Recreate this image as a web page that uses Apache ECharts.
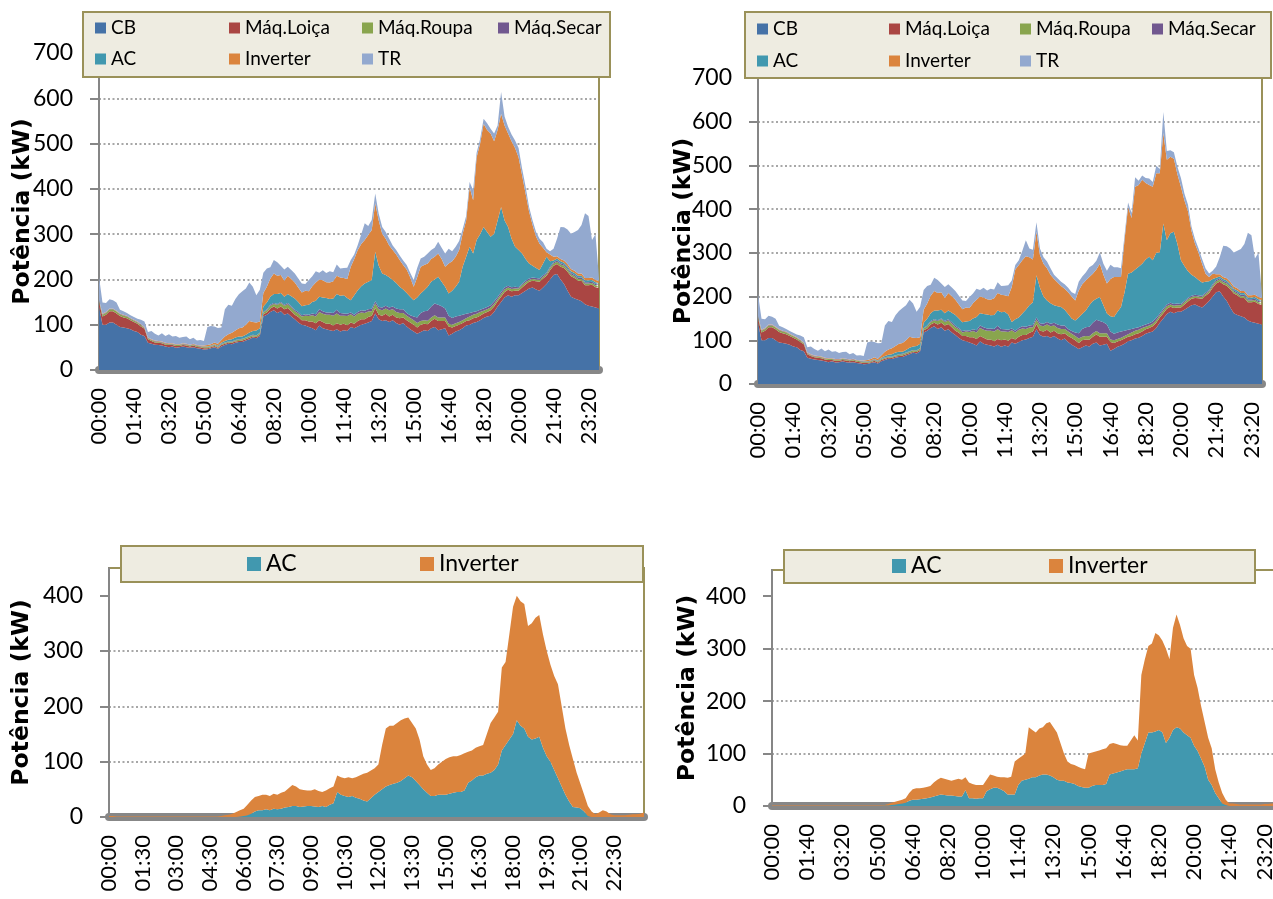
<!DOCTYPE html>
<html>
<head>
<meta charset="utf-8">
<script src="https://cdn.jsdelivr.net/npm/echarts@6/dist/echarts.min.js"></script>
<style>
  html, body { margin: 0; padding: 0; background: #ffffff; }
  #chart { width: 1273px; height: 899px; }
</style>
</head>
<body>
<div id="chart"></div>
<script>
// 10-minute time slots over one day (category labels)
const times = [];
for (let m = 0; m < 1440; m += 10) {
  times.push(String(Math.floor(m / 60)).padStart(2, '0') + ':' + String(m % 60).padStart(2, '0'));
}

// Base loads (kW), shared by both full-stack panels; one row = 1 hour (6 x 10 min)
const cb = [
  140,100,100,105,105,100, 95,94,92,90,86,84, 78,75,60,58,56,55, 54,52,50,52,49,50,
  52,50,49,50,48,47, 45,46,48,50,47,52, 55,58,57,60,62,62, 65,68,72,70,75,118,
  122,128,132,126,130,122, 125,118,112,105,100,98, 95,92,88,98,92,90, 88,86,90,85,88,86,
  95,92,96,100,102,105, 108,125,112,108,110,106, 110,104,100,104,96,90, 85,80,84,88,86,92,
  95,88,90,92,76,80, 85,88,92,98,100,104, 106,110,115,118,120,128, 140,150,160,165,162,165,
  165,170,175,180,182,178, 175,182,190,200,210,212, 200,190,175,162,158,155, 152,145,142,140,138,136
];
const maqLoica = [
  10,18,22,25,25,25, 24,22,22,20,20,18, 18,16,8,6,5,5, 5,4,5,3,4,3,
  3,4,3,4,3,3, 3,2,2,3,2,3, 3,2,3,3,2,3, 3,3,2,3,3,5,
  5,8,8,10,10,12, 12,12,10,12,10,12, 12,15,15,12,14,12, 14,12,13,15,14,13,
  10,10,12,12,10,12, 12,12,10,12,14,12, 12,12,14,12,14,15, 15,14,16,14,15,16,
  18,20,18,16,20,14, 12,12,12,10,10,10, 10,10,10,10,12,12, 12,12,12,12,12,10,
  10,12,14,15,15,18, 20,20,18,20,20,22, 28,35,42,45,45,42, 45,42,45,48,45,45
];
const maqRoupa = [
  3,4,4,4,4,4, 4,4,4,3,3,3, 3,2,2,2,2,2, 2,2,2,2,2,2,
  2,2,2,2,2,2, 2,2,2,2,2,2, 2,2,2,2,3,3, 3,3,3,3,3,4,
  5,6,6,8,8,8, 8,8,8,8,8,10, 12,14,15,18,18,20, 20,22,22,20,18,20,
  18,16,16,15,14,12, 10,10,12,12,12,14, 12,12,12,10,10,10, 10,10,8,8,8,8,
  8,8,8,8,6,6, 6,6,6,6,8,8, 8,8,6,6,6,6, 5,6,6,5,5,5,
  5,5,5,4,4,4, 4,4,4,5,5,5, 5,5,5,4,4,4, 4,4,4,4,4,4
];
const maqSecar = [
  1,1,1,1,1,1, 1,1,1,1,1,1, 1,1,1,1,1,1, 1,1,1,1,1,1,
  1,1,1,1,1,1, 1,1,1,1,1,1, 1,1,1,1,1,1, 1,1,1,1,1,1,
  2,2,2,2,2,2, 3,3,3,3,3,3, 3,4,5,6,6,5, 5,6,8,6,5,5,
  4,4,4,5,5,5, 5,5,5,6,6,6, 6,8,8,8,6,6, 8,12,18,20,22,24,
  26,28,25,20,18,15, 15,14,12,10,8,6, 6,5,5,5,5,5, 4,4,4,4,4,4,
  3,3,3,3,3,3, 3,3,3,3,3,3, 3,3,3,3,3,3, 3,3,3,3,3,3
];
const tr = [
  51,25,20,20,18,18, 8,8,6,6,6,6, 10,12,12,18,15,12, 18,15,20,15,18,14,
  14,16,12,13,10,12, 10,40,40,35,35,28, 60,65,60,70,75,80, 80,85,78,60,70,45,
  40,25,30,30,20,25, 20,20,20,20,20,15, 25,22,25,15,22,20, 25,20,25,20,22,25,
  15,10,11,22,37,20, 22,22,15,15,15,15, 10,10,10,10,10,10, 15,20,18,18,22,20,
  20,26,25,29,33,22, 22,20,10,10,11,22, 10,10,11,15,11,17, 10,48,20,15,15,17,
  20,15,15,10,10,10, 11,12,8,7,18,39, 71,73,76,78,86,96, 107,143,137,83,101,5
];

// AC and Inverter loads, full-stack panel (left)
const acA = [
  0,0,0,0,0,0, 0,0,0,0,0,0, 0,0,0,0,0,0, 0,0,0,0,0,0,
  0,0,0,0,0,0, 1,1,1,1,2,2, 3,4,5,6,6,5, 6,8,8,10,10,12,
  15,18,20,22,20,18, 20,22,25,22,20,20, 22,25,30,28,30,32, 30,32,35,38,40,35,
  27,43,48,53,60,61, 64,109,91,75,68,67, 59,56,50,44,44,41, 36,44,43,46,53,55,
  53,62,54,48,49,60, 66,75,106,126,146,129, 157,167,180,166,151,150, 169,188,148,130,107,88,
  82,67,48,33,26,22, 19,26,35,12,4,4, 4,4,4,4,4,4, 4,4,4,4,4,4
];
const invA = [
  1,1,1,1,1,1, 1,1,1,1,1,1, 1,1,1,1,1,1, 1,1,1,1,1,1,
  1,1,1,1,1,1, 2,3,3,4,4,6, 10,12,14,15,18,20, 22,25,20,18,15,30,
  35,40,45,40,40,35, 40,38,35,32,30,32, 30,35,40,38,38,35, 36,38,40,40,38,42,
  74,80,89,93,96,103, 110,107,100,88,80,70, 66,63,59,54,52,43, 30,45,59,56,51,50,
  50,51,50,44,66,65, 66,70,73,80,132,118, 183,200,228,225,228,204, 200,206,210,206,215,218,
  205,173,145,115,90,70, 58,35,10,15,8,5, 5,5,5,5,5,5, 5,5,5,5,5,5
];

// AC and Inverter loads, full-stack panel (right)
const acB = [
  0,0,0,0,0,0, 0,0,0,0,0,0, 0,0,0,0,0,0, 0,0,0,0,0,0,
  0,0,0,0,0,0, 1,1,1,1,2,2, 3,4,5,6,6,5, 6,8,8,10,10,12,
  15,18,20,22,20,18, 20,22,25,22,20,20, 22,25,30,28,30,32, 30,32,35,38,40,35,
  15,26,24,29,39,46, 52,97,81,62,49,47, 40,42,42,36,34,29, 27,36,34,38,49,50,
  48,55,39,25,35,38, 47,56,88,128,129,134, 138,142,149,152,140,149, 140,195,147,159,165,136,
  100,80,61,48,41,35, 30,25,20,12,5,4, 4,4,4,4,4,4, 4,4,4,4,4,4
];
const invB = [
  1,1,1,1,1,1, 1,1,1,1,1,1, 1,1,1,1,1,1, 1,1,1,1,1,1,
  1,1,1,1,1,1, 2,3,3,4,4,6, 10,12,14,15,18,20, 22,25,20,18,15,30,
  35,40,45,40,40,35, 40,38,35,32,30,32, 30,35,40,38,38,35, 36,38,40,40,38,42,
  80,114,120,122,122,110, 98,99,75,75,74,65, 60,54,48,48,50,50, 46,62,68,69,65,62,
  67,76,70,69,85,92, 80,69,120,153,125,189, 187,192,175,164,168,182, 181,207,184,175,167,160,
  168,150,137,100,76,62, 43,18,10,12,8,5, 5,5,5,5,5,5, 5,5,5,5,5,5
];

// AC and Inverter only (lower left panel)
const acDayA = [
  0,0,0,0,0,0, 0,0,0,0,0,0, 0,0,0,0,0,0, 0,0,0,0,0,0,
  0,0,0,0,0,0, 0,0,0,0,0,1, 2,3,6,10,12,12, 14,12,15,14,15,17,
  18,20,20,18,19,20, 20,19,18,20,18,22, 25,45,40,38,36,38, 35,33,30,28,34,40,
  45,50,55,58,60,62, 65,70,75,72,65,58, 50,44,38,38,40,40, 40,42,44,45,45,48,
  62,66,72,75,75,78, 80,85,95,120,130,140, 150,175,165,160,145,140, 142,145,125,110,100,85,
  70,55,40,28,18,17, 16,10,2,0,0,0, 0,0,0,0,0,0, 0,0,0,0,0,0
];
const invDayA = [
  2,2,1,1,1,1, 1,1,1,1,1,1, 1,1,1,1,1,1, 1,1,1,1,1,1,
  1,1,1,1,1,1, 2,3,4,6,9,11, 13,19,24,26,26,28, 26,26,27,26,29,29,
  34,38,35,32,30,28, 28,31,29,25,30,30, 30,30,32,32,36,32, 37,42,48,52,50,48,
  50,80,105,107,105,108, 110,108,105,98,95,82, 60,51,47,50,55,60, 65,66,66,65,67,67,
  56,54,53,53,55,72, 90,95,95,150,150,190, 230,225,225,225,200,210, 218,220,205,190,175,170,
  170,145,120,102,87,63, 44,30,18,10,5,8, 12,10,5,3,3,3, 3,4,5,5,6,8
];

// AC and Inverter only (lower right panel)
const acDayB = [
  0,0,0,0,0,0, 0,0,0,0,0,0, 0,0,0,0,0,0, 0,0,0,0,0,0,
  0,0,0,0,0,0, 0,0,1,1,2,3, 4,5,6,10,12,12, 13,14,15,16,18,20,
  22,21,20,20,19,18, 18,30,15,15,14,15, 15,28,32,35,35,32, 28,22,22,22,40,48,
  50,52,55,55,58,60, 60,58,55,50,48,48, 45,44,42,38,36,35, 35,38,40,40,40,42,
  60,62,64,66,68,70, 70,70,72,100,120,140, 140,142,145,140,120,130, 145,150,148,140,135,130,
  115,105,90,75,50,40, 25,15,5,2,0,0, 0,0,0,0,0,0, 0,0,0,0,0,0
];
const invDayB = [
  1,1,1,1,1,1, 1,1,1,1,1,1, 1,1,1,1,1,1, 1,1,1,1,1,1,
  1,1,1,1,1,1, 1,1,1,3,4,5, 6,7,9,15,20,22, 21,21,21,22,27,30,
  32,31,30,28,31,34, 32,25,30,27,26,25, 25,22,28,23,21,23, 27,32,34,63,50,47,
  50,98,90,85,90,90, 98,102,95,90,72,52, 40,36,36,37,36,35, 65,64,64,66,68,68,
  58,58,54,50,47,45, 55,65,53,150,160,165, 170,188,180,175,180,150, 195,215,197,180,170,170,
  135,120,100,85,80,70, 45,30,20,10,5,5, 4,3,3,3,3,3, 3,3,4,4,5,5
];

const seriesColors = {
  'CB': '#4572A7',
  'Máq.Loiça': '#AA4643',
  'Máq.Roupa': '#89A54E',
  'Máq.Secar': '#71588F',
  'AC': '#4198AF',
  'Inverter': '#DB843D',
  'TR': '#93A9CF'
};

const FONT = "Lato, 'Open Sans', sans-serif";
const OLIVE = '#9a9159';
const GRID_LINE = '#8a8a8a';

const grids = [
  { left: 99,  top: 53,  width: 500, height: 317 },
  { left: 758, top: 78,  width: 504, height: 306 },
  { left: 109, top: 568, width: 535, height: 249 },
  { left: 772, top: 570, width: 503, height: 236 }
];

function areaSeries(name, data, gridIndex, stack) {
  const c = seriesColors[name];
  return {
    name: name,
    type: 'line',
    xAxisIndex: gridIndex,
    yAxisIndex: gridIndex,
    stack: stack,
    data: data,
    symbol: 'none',
    showSymbol: false,
    lineStyle: { width: 0, color: c },
    itemStyle: { color: c },
    areaStyle: { color: c, opacity: 1 },
    emphasis: { disabled: true },
    animation: false
  };
}

function xAxisFor(gridIndex, interval) {
  return {
    type: 'category',
    gridIndex: gridIndex,
    data: times,
    boundaryGap: false,
    offset: 4,
    axisLine: { show: true, lineStyle: { color: '#878787', width: 8 } },
    axisTick: { show: false },
    splitLine: { show: false },
    axisLabel: {
      interval: interval,
      rotate: 90,
      margin: 14,
      fontSize: 22,
      fontFamily: FONT,
      color: '#000'
    }
  };
}

function yAxisFor(gridIndex, max, nameGap) {
  const shown = [];
  for (let v = 0; v <= Math.min(max, 700); v += 100) shown.push(v);
  return {
    type: 'value',
    gridIndex: gridIndex,
    min: 0,
    max: max,
    interval: 100,
    name: 'Potência (kW)',
    nameLocation: 'middle',
    nameGap: nameGap,
    nameMoveOverlap: false,
    nameTextStyle: {
      fontFamily: "'DejaVu Sans', sans-serif",
      fontWeight: 'bold',
      fontSize: 23.5,
      color: '#000'
    },
    axisLine: { show: true, lineStyle: { color: '#868686', width: 2 } },
    axisTick: { show: true, length: 9, customValues: shown, lineStyle: { color: '#868686', width: 2 } },
    axisLabel: { customValues: shown, margin: 26, fontSize: 23, fontFamily: FONT, color: '#000' },
    splitLine: {
      show: true,
      showMaxLine: false,
      lineStyle: { color: GRID_LINE, width: 1.5, type: [2, 2.5] }
    }
  };
}

function legendCol(left, top, names, size, gap) {
  const big = size > 12;
  return {
    left: left,
    top: top,
    orient: 'vertical',
    padding: 0,
    itemGap: gap,
    itemWidth: size,
    itemHeight: size,
    icon: 'rect',
    z: 10,
    data: names,
    textStyle: { fontFamily: FONT, fontSize: big ? 23 : 19, color: '#000', lineHeight: big ? 26 : 22 }
  };
}

function legendBox(x1, y1, x2, y2) {
  return {
    type: 'rect',
    z: 5,
    shape: { x: x1, y: y1, width: x2 - x1, height: y2 - y1 },
    style: { fill: '#EEECE1', stroke: OLIVE, lineWidth: 2 }
  };
}

const fullNames = ['CB', 'Máq.Loiça', 'Máq.Roupa', 'Máq.Secar', 'AC', 'Inverter', 'TR'];
const fullA = [cb, maqLoica, maqRoupa, maqSecar, acA, invA, tr];
const fullB = [cb, maqLoica, maqRoupa, maqSecar, acB, invB, tr];

const series = [];
fullNames.forEach((n, i) => series.push(areaSeries(n, fullA[i], 0, 'left')));
fullNames.forEach((n, i) => series.push(areaSeries(n, fullB[i], 1, 'right')));
series.push(areaSeries('AC', acDayA, 2, 'dayA'));
series.push(areaSeries('Inverter', invDayA, 2, 'dayA'));
series.push(areaSeries('AC', acDayB, 3, 'dayB'));
series.push(areaSeries('Inverter', invDayB, 3, 'dayB'));

const option = {
  backgroundColor: '#ffffff',
  animation: false,
  grid: grids.map(g => Object.assign({
    show: true,
    borderColor: OLIVE,
    borderWidth: 2,
    backgroundColor: 'transparent',
    containLabel: false,
    outerBoundsMode: 'none'
  }, g)),
  xAxis: [xAxisFor(0, 9), xAxisFor(1, 9), xAxisFor(2, 8), xAxisFor(3, 9)],
  yAxis: [yAxisFor(0, 700, 64), yAxisFor(1, 700, 62), yAxisFor(2, 450, 75), yAxisFor(3, 450, 72)],
  legend: [
    legendCol(95, 17, ['CB', 'AC'], 11, 9),
    legendCol(229, 17, ['Máq.Loiça', 'Inverter'], 11, 9),
    legendCol(362, 17, ['Máq.Roupa', 'TR'], 11, 9),
    legendCol(498, 17, ['Máq.Secar'], 11, 9),
    legendCol(757, 18, ['CB', 'AC'], 11, 10),
    legendCol(889, 18, ['Máq.Loiça', 'Inverter'], 11, 10),
    legendCol(1020, 18, ['Máq.Roupa', 'TR'], 11, 10),
    legendCol(1152, 18, ['Máq.Secar'], 11, 10),
    legendCol(247, 551, ['AC'], 14, 0),
    legendCol(420, 551, ['Inverter'], 14, 0),
    legendCol(892, 553, ['AC'], 14, 0),
    legendCol(1049, 553, ['Inverter'], 14, 0)
  ],
  graphic: [
    legendBox(83, 12, 610, 77),
    legendBox(745, 12, 1271, 78),
    legendBox(121, 546, 643, 582),
    legendBox(784, 550, 1255, 583)
  ],
  series: series
};

const chart = echarts.init(document.getElementById('chart'), null, { renderer: 'canvas' });
chart.setOption(option);
</script>
</body>
</html>
